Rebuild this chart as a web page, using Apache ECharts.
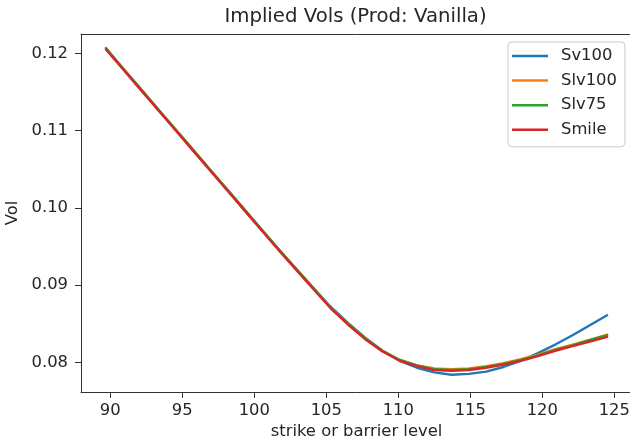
<!DOCTYPE html>
<html>
<head>
<meta charset="utf-8">
<script src="https://cdn.jsdelivr.net/npm/echarts@6/dist/echarts.min.js"></script>
<style>
html,body{margin:0;padding:0;background:#fff;}
#chart{width:630px;height:442px;}
</style>
</head>
<body>
<div id="chart"></div>
<script>
const strikes = [89.7, 90.9, 92.1, 93.3, 94.5, 95.7, 96.9, 98.1, 99.3, 100.5, 101.7, 102.9, 104.1, 105.3, 106.5, 107.7, 108.9, 110.1, 111.3, 112.5, 113.7, 114.9, 116.1, 117.3, 118.5, 119.7, 120.9, 122.1, 123.3, 124.5];
const sv100  = [0.1207, 0.1180, 0.1154, 0.1128, 0.1102, 0.1076, 0.1050, 0.1024, 0.0998, 0.0972, 0.0946, 0.0921, 0.0896, 0.0872, 0.0851, 0.0832, 0.0815, 0.0802, 0.0793, 0.0787, 0.0784, 0.0785, 0.0788, 0.0794, 0.0802, 0.0812, 0.0823, 0.0835, 0.0848, 0.0861];
const slv100 = [0.1206, 0.1180, 0.1154, 0.1128, 0.1102, 0.1076, 0.1050, 0.1024, 0.0998, 0.0972, 0.0946, 0.0921, 0.0896, 0.0871, 0.0850, 0.0831, 0.0815, 0.0803, 0.0796, 0.0792, 0.0791, 0.0792, 0.0795, 0.0799, 0.0804, 0.0810, 0.0817, 0.0823, 0.0829, 0.0836];
const slv75  = [0.1206, 0.1180, 0.1154, 0.1128, 0.1102, 0.1076, 0.1050, 0.1024, 0.0998, 0.0972, 0.0946, 0.0921, 0.0896, 0.0871, 0.0850, 0.0831, 0.0815, 0.0803, 0.0796, 0.0791, 0.0790, 0.0791, 0.0794, 0.0798, 0.0803, 0.0809, 0.0816, 0.0822, 0.0829, 0.0835];
const smile  = [0.1205, 0.1179, 0.1153, 0.1127, 0.1101, 0.1075, 0.1049, 0.1023, 0.0997, 0.0971, 0.0945, 0.0920, 0.0895, 0.0870, 0.0849, 0.0830, 0.0814, 0.0802, 0.0795, 0.0790, 0.0789, 0.0790, 0.0793, 0.0797, 0.0802, 0.0808, 0.0815, 0.0821, 0.0827, 0.0833];
const seriesNames = ['Sv100', 'Slv100', 'Slv75', 'Smile'];
const xTicks = [90, 95, 100, 105, 110, 115, 120, 125];
const yTicks = [0.08, 0.09, 0.10, 0.11, 0.12];

const colors = ['#1f77b4', '#ff7f0e', '#2ca02c', '#d62728'];
const allSeries = [sv100, slv100, slv75, smile];
const FONT = 'DejaVu Sans';
const textColor = '#262626';
const spineColor = '#333';
const X_MIN = 87.965, X_MAX = 126.23;

const chart = echarts.init(document.getElementById('chart'), null, {renderer: 'canvas'});
chart.setOption({
  animation: false,
  backgroundColor: '#fff',
  title: {
    text: 'Implied Vols (Prod: Vanilla)',
    left: 355.5, top: 7, textAlign: 'center', padding: 0,
    textStyle: {fontFamily: FONT, fontSize: 19.7, fontWeight: 'normal', color: textColor}
  },
  legend: {
    orient: 'vertical',
    left: 508, top: 42,
    padding: [5, 8, 8, 4],
    itemGap: 6.6,
    itemWidth: 36, itemHeight: 2.5,
    icon: 'rect',
    backgroundColor: 'rgba(255,255,255,0.8)',
    borderColor: '#cccccc', borderWidth: 1, borderRadius: 4,
    textStyle: {fontFamily: FONT, fontSize: 16.4, color: textColor, lineHeight: 18, padding: [0, 0, 0, 8]},
    data: seriesNames
  },
  grid: {left: 81, top: 34, right: -2, bottom: 50, show: false, outerBoundsMode: 'none', containLabel: false},
  xAxis: [{
    type: 'value', min: X_MIN, max: X_MAX,
    name: 'strike or barrier level', nameLocation: 'middle', nameGap: 31,
    nameTextStyle: {fontFamily: FONT, fontSize: 16.4, color: textColor},
    axisLine: {show: true, onZero: false, lineStyle: {color: spineColor, width: 1}},
    axisTick: {show: true, length: 6, customValues: xTicks, lineStyle: {color: spineColor, width: 1}},
    axisLabel: {customValues: xTicks, margin: 11, fontFamily: FONT, fontSize: 16.4, color: textColor},
    splitLine: {show: false}
  }, {
    type: 'value', min: X_MIN, max: X_MAX, position: 'top',
    axisLine: {show: true, onZero: false, lineStyle: {color: spineColor, width: 1}},
    axisTick: {show: false}, axisLabel: {show: false}, splitLine: {show: false}
  }],
  yAxis: {
    type: 'value', min: 0.07616, max: 0.1225,
    name: 'Vol', nameLocation: 'middle', nameGap: 58,
    nameTextStyle: {fontFamily: FONT, fontSize: 16.4, color: textColor},
    axisLine: {show: true, onZero: false, lineStyle: {color: spineColor, width: 1}},
    axisTick: {show: true, length: 6, customValues: yTicks, lineStyle: {color: spineColor, width: 1}},
    axisLabel: {customValues: yTicks, margin: 13, fontFamily: FONT, fontSize: 16.4, color: textColor,
      formatter: v => v.toFixed(2)},
    splitLine: {show: false}
  },
  series: allSeries.map((arr, i) => ({
    name: seriesNames[i],
    type: 'line',
    xAxisIndex: 0,
    data: strikes.map((x, j) => [x, arr[j]]),
    showSymbol: false, symbol: 'none',
    color: colors[i],
    itemStyle: {color: colors[i]},
    lineStyle: {color: colors[i], width: 2.4, cap: 'round', join: 'round'},
    z: 2 + i
  }))
});
</script>
</body>
</html>
